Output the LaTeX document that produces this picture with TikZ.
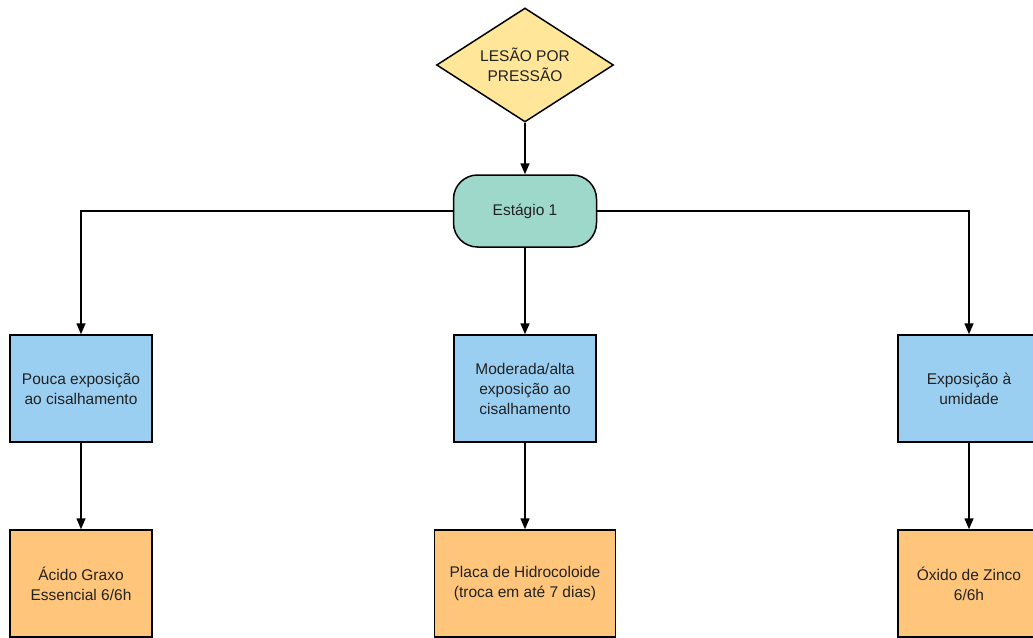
\documentclass[tikz,border=0pt]{standalone}
\usepackage{fontspec}
\setmainfont{Liberation Sans}
\usetikzlibrary{shapes.geometric,arrows.meta}
\definecolor{decisionfill}{RGB}{255,230,153}
\definecolor{stagefill}{RGB}{158,216,202}
\definecolor{condfill}{RGB}{155,207,242}
\definecolor{treatfill}{RGB}{255,197,122}
\definecolor{inktext}{RGB}{34,34,34}
\tikzset{
  base/.style={draw=black, line width=1.5pt, inner sep=0pt, align=center,
    text=inktext, font=\fontsize{15.5}{20}\selectfont},
  decision/.style={base, shape=diamond, aspect=1.55, fill=decisionfill,
    minimum width=177pt, minimum height=114pt},
  stage/.style={base, rectangle, rounded corners=24pt, fill=stagefill,
    minimum width=143pt, minimum height=72pt},
  cond/.style={base, rectangle, fill=condfill, minimum width=142pt, minimum height=107pt},
  treat/.style={base, rectangle, fill=treatfill, minimum height=107pt},
  link/.style={draw=black, line width=1.5pt, -{Triangle[length=11pt,width=9pt]}}
}
\begin{document}
\begin{tikzpicture}[x=1pt,y=-1pt]
  \useasboundingbox (0,0) rectangle (1033,637);
  \clip (0,0) rectangle (1033,637);

  % decision and stage
  \node[decision] (lesao) at (525,65) {LESÃO POR\\PRESSÃO};
  \node[stage] (estagio) at (525,211) {Estágio 1};

  % exposure conditions
  \node[cond] (pouca) at (81,388.5) {Pouca exposição\\ao cisalhamento};
  \node[cond] (moderada) at (525,388.5) {Moderada/alta\\exposição ao\\cisalhamento};
  \node[cond] (umidade) at (969,388.5) {Exposição à\\umidade};

  % treatments
  \node[treat, minimum width=142pt] (acido) at (81,583.5) {Ácido Graxo\\Essencial 6/6h};
  \node[treat, minimum width=181pt] (placa) at (525,583.5) {Placa de Hidrocoloide\\(troca em até 7 dias)};
  \node[treat, minimum width=142pt] (oxido) at (969,583.5) {Óxido de Zinco\\6/6h};

  % connectors
  \draw[link] (lesao.south) -- (estagio.north);
  \draw[link] (estagio.west) -| (pouca.north);
  \draw[link] (estagio.south) -- (moderada.north);
  \draw[link] (estagio.east) -| (umidade.north);
  \draw[link] (pouca.south) -- (acido.north);
  \draw[link] (moderada.south) -- (placa.north);
  \draw[link] (umidade.south) -- (oxido.north);
\end{tikzpicture}
\end{document}
